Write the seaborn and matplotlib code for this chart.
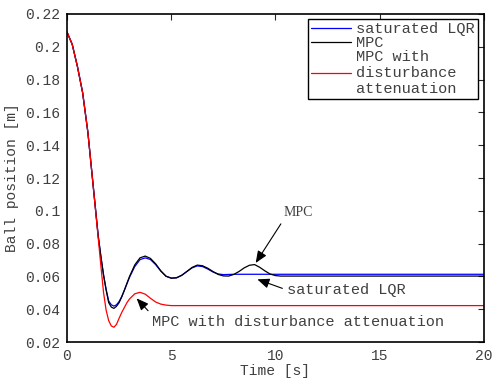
import numpy as np
import pandas as pd
import seaborn as sns
import matplotlib.pyplot as plt

# time grid (s) and ball position (m)
time = [0.0, 0.25, 0.5, 0.75, 1.0, 1.25, 1.5, 1.625, 1.75, 1.875, 2.0, 2.125, 2.25,
        2.375, 2.5, 2.625, 2.75, 2.875, 3.0, 3.25,
        3.5, 3.75, 4.0, 4.25, 4.5, 4.75, 5.0, 5.25, 5.5, 5.75, 6.0, 6.25, 6.5, 6.75,
        7.0, 7.25, 7.5, 7.75, 8.0, 8.25, 8.5, 8.75, 9.0, 9.25, 9.5, 9.75, 10.0, 10.25,
        11.0, 12.0, 14.0, 16.0, 18.0, 20.0]

lqr = [0.2090, 0.2015, 0.1880, 0.1720, 0.1480, 0.1160, 0.0843, 0.0722, 0.0612, 0.0522,
       0.0450, 0.0427, 0.0419, 0.0427, 0.0447, 0.0477, 0.0515, 0.0555, 0.0595, 0.0660,
       0.0702, 0.0713, 0.0703, 0.0672, 0.0632, 0.0601,
       0.0590, 0.0592, 0.0607, 0.0630, 0.0652, 0.0664, 0.0660, 0.0645, 0.0627, 0.0615,
       0.0611, 0.0612, 0.0613, 0.0613, 0.0613, 0.0613, 0.0613, 0.0613, 0.0613, 0.0613,
       0.0613, 0.0613, 0.0613, 0.0613, 0.0613, 0.0613, 0.0613, 0.0613]

mpc = [0.2090, 0.2015, 0.1880, 0.1720, 0.1480, 0.1160, 0.0843, 0.0722, 0.0610, 0.0518,
       0.0440, 0.0413, 0.0405, 0.0418, 0.0440, 0.0475, 0.0515, 0.0558, 0.0600, 0.0670,
       0.0713, 0.0724, 0.0710, 0.0677, 0.0634, 0.0601,
       0.0589, 0.0591, 0.0606, 0.0630, 0.0655, 0.0669, 0.0665, 0.0650, 0.0630, 0.0612,
       0.0603, 0.0602, 0.0612, 0.0630, 0.0652, 0.0668, 0.0672, 0.0655, 0.0633, 0.0614,
       0.0605, 0.0602, 0.0602, 0.0602, 0.0602, 0.0602, 0.0602, 0.0602]

mpc_dist = [0.2090, 0.2015, 0.1880, 0.1720, 0.1480, 0.1160, 0.0830, 0.0665, 0.0505, 0.0395,
            0.0330, 0.0298, 0.0290, 0.0308, 0.0345, 0.0380, 0.0410, 0.0440, 0.0463, 0.0494,
            0.0503, 0.0492, 0.0467, 0.0444, 0.0431, 0.0425,
            0.0422, 0.0422, 0.0422, 0.0422, 0.0422, 0.0422, 0.0422, 0.0422, 0.0422, 0.0422,
            0.0422, 0.0422, 0.0422, 0.0422, 0.0422, 0.0422, 0.0422, 0.0422, 0.0422, 0.0422,
            0.0422, 0.0422, 0.0422, 0.0422, 0.0422, 0.0422, 0.0422, 0.0422]

labels = ['saturated LQR', 'MPC', 'MPC with\ndisturbance\nattenuation']
colors = ['blue', 'black', 'red']

df = pd.DataFrame({'t': time, labels[0]: lqr, labels[1]: mpc, labels[2]: mpc_dist})

sns.set_style('white')
plt.rcParams['font.family'] = ['Liberation Mono', 'DejaVu Sans']
txt = '#404040'

fig, ax = plt.subplots(figsize=(4.93, 3.78), dpi=100)
fig.subplots_adjust(left=0.1359, right=0.9817, top=0.963, bottom=0.0952)

for lab, col in zip(labels, colors):
    sns.lineplot(data=df, x='t', y=lab, color=col, lw=0.9, label=lab,
                 estimator=None, sort=False, ax=ax)

ax.set_xlim(0, 20)
ax.set_ylim(0.02, 0.22)
yt = np.round(np.arange(0.02, 0.2201, 0.02), 2)
ax.set_xticks([0, 5, 10, 15, 20])
ax.set_yticks(yt)
ax.set_yticklabels([f'{v:g}' for v in yt])
ax.tick_params(direction='in', top=True, right=True, length=4, width=0.8,
               labelsize=10.5, labelcolor=txt, pad=5)
for s in ax.spines.values():
    s.set_color('black')
    s.set_linewidth(1.2)

ax.set_xlabel('Time [s]', fontsize=10.5, color=txt, labelpad=1)
ax.set_ylabel('Ball position [m]', fontsize=10.5, color=txt, labelpad=4)

leg = ax.legend(loc='upper right', bbox_to_anchor=(0.9856, 0.985), borderaxespad=0,
                fontsize=11, handlelength=2.6, handletextpad=0.35, labelspacing=0.0,
                fancybox=False, framealpha=1, borderpad=0.2)
leg.get_frame().set_edgecolor('black')
leg.get_frame().set_linewidth(1.0)
for t in leg.get_texts():
    t.set_color(txt)


def arrow(rp):
    return dict(arrowstyle='-|>,head_length=0.6,head_width=0.25', color='black',
                lw=0.8, mutation_scale=12, shrinkA=1, shrinkB=0, relpos=rp)


ax.annotate('MPC', xy=(9.05, 0.0682), xytext=(11.1, 0.0987), ha='center', va='center',
            fontsize=10, family='Liberation Serif', color=txt, arrowprops=arrow((0, 0)))
ax.annotate('saturated LQR', xy=(9.13, 0.0582), xytext=(10.55, 0.0517), ha='left',
            va='center', fontsize=11, color=txt, arrowprops=arrow((0, 0.5)))
ax.annotate('MPC with disturbance attenuation', xy=(3.34, 0.0466), xytext=(4.08, 0.0322),
            ha='left', va='center', fontsize=11, color=txt, arrowprops=arrow((0, 1)))

fig.savefig('out.png', dpi=100)
